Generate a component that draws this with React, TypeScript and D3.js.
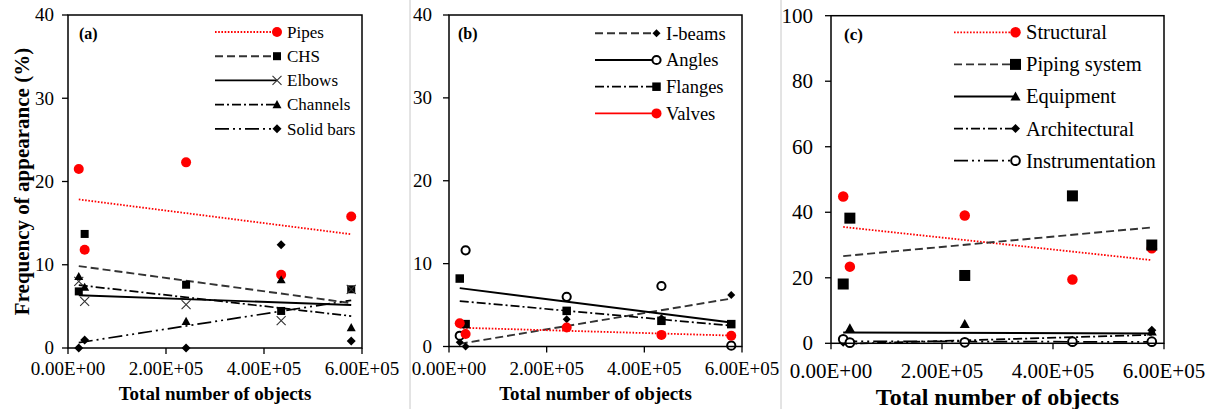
import React from "react";
import * as d3 from "d3";

// x positions: total number of objects in each dataset
const totalObjects = [22000, 34000, 241000, 435000, 578000];

// panel (a)
const pipes = [21.5, 11.8, 22.3, 8.8, 15.8];
const chs = [6.8, 13.7, 7.6, 4.45, 7.05];
const elbows = [8.0, 5.6, 5.2, 3.3, 7.05];
const channels = [8.6, 7.3, 3.2, 8.2, 2.45];
const solidBars = [0, 0.96, 0, 12.4, 0.84];

// panel (b)
const iBeams = [0.5, 0, 3.3, 3.4, 6.2];
const angles = [1.3, 11.6, 6.0, 7.3, 0.1];
const flanges = [8.2, 2.7, 4.3, 3.1, 2.7];
const valves = [2.8, 1.5, 2.3, 1.4, 1.3];

// panel (c)
const structural = [44.8, 23.4, 39.0, 19.5, 29.0];
const pipingSystem = [18.1, 38.2, 20.7, 45.0, 30.0];
const equipment = [1.0, 4.6, 5.9, 0.8, 3.6];
const architectural = [0.3, 0.2, 0.2, 0.3, 4.0];
const instrumentation = [1.2, 0.2, 0.3, 0.5, 0.5];

const xTickValues = [0, 200000, 400000, 600000];
const xTickLabels = ["0.00E+00", "2.00E+05", "4.00E+05", "6.00E+05"];
const yTicksAB = [0, 10, 20, 30, 40];
const yTicksC = [0, 20, 40, 60, 80, 100];

const FONT = "'Liberation Serif', 'Times New Roman', serif";
const RED = "#ff0000";

// line styles
const DOT = { color: RED, dash: "1.6 1.6", width: 1.8 };
const DASH = { color: "#333", dash: "8 4", width: 1.9 };
const SOLID = { color: "#000", dash: null, width: 1.9 };
const DASHDOT = { color: "#000", dash: "9 3 2 3", width: 1.7 };
const LONGDASHDOTDOT = { color: "#000", dash: "14 4 2 4 2 4", width: 1.7 };
const SOLIDRED = { color: RED, dash: null, width: 1.9 };

function trend(xs, ys) {
  const mx = d3.mean(xs), my = d3.mean(ys);
  let sxy = 0, sxx = 0;
  xs.forEach((x, i) => { sxy += (x - mx) * (ys[i] - my); sxx += (x - mx) * (x - mx); });
  const b = sxy / sxx;
  const a = my - b * mx;
  const x0 = d3.min(xs), x1 = d3.max(xs);
  return [[x0, a + b * x0], [x1, a + b * x1]];
}

function Marker({ type, x, y, size }) {
  const h = size / 2;
  if (type === "redcircle") return <circle cx={x} cy={y} r={h} fill={RED} />;
  if (type === "opencircle") return <circle cx={x} cy={y} r={h - 0.9} fill="#fff" stroke="#000" strokeWidth={2} />;
  if (type === "square") return <rect x={x - h} y={y - h} width={size} height={size} fill="#000" />;
  if (type === "triangle") return <path d={`M${x},${y - h}L${x + h},${y + h * 0.8}L${x - h},${y + h * 0.8}Z`} fill="#000" />;
  if (type === "diamond") return <path d={`M${x},${y - h}L${x + h},${y}L${x},${y + h}L${x - h},${y}Z`} fill="#000" />;
  if (type === "cross") return <path d={`M${x - h},${y - h}L${x + h},${y + h}M${x + h},${y - h}L${x - h},${y + h}`} stroke="#333" strokeWidth={1.1} fill="none" />;
  return null;
}

const panels = [
  {
    tag: "(a)", left: 68, right: 362, top: 15, bottom: 348, yMax: 40, yTicks: yTicksAB,
    tickFont: 19, legendFont: 17, titleFont: 19, tagFont: 16, tickGap: 14,
    xTickY: 375, titleY: 400, tagX: 79, tagY: 33,
    legend: { x1: 215, x2: 277, tx: 287, y0: 32, dy: 24.2 },
    yTitle: "Frequency of appearance (%)",
    series: [
      { name: "Pipes", values: pipes, marker: "redcircle", size: 10, line: DOT, legendLine: DOT },
      { name: "CHS", values: chs, marker: "square", size: 8, line: DASH, legendLine: DASH },
      { name: "Elbows", values: elbows, marker: "cross", size: 9, line: SOLID, legendLine: SOLID },
      { name: "Channels", values: channels, marker: "triangle", size: 9, line: DASHDOT, legendLine: DASHDOT },
      { name: "Solid bars", values: solidBars, marker: "diamond", size: 9, line: LONGDASHDOTDOT, legendLine: LONGDASHDOTDOT },
    ],
  },
  {
    tag: "(b)", left: 449, right: 742, top: 15, bottom: 346.5, yMax: 40, yTicks: yTicksAB,
    tickFont: 19, legendFont: 18.5, titleFont: 19, tagFont: 16, tickGap: 17,
    xTickY: 375, titleY: 400, tagX: 458, tagY: 33,
    legend: { x1: 595, x2: 656.5, tx: 666, y0: 33.3, dy: 26.7 },
    series: [
      { name: "I-beams", values: iBeams, marker: "diamond", size: 8, line: DASH, legendLine: DASH },
      { name: "Angles", values: angles, marker: "opencircle", size: 10, line: SOLID, legendLine: SOLID },
      { name: "Flanges", values: flanges, marker: "square", size: 8.5, line: DASHDOT, legendLine: DASHDOT },
      { name: "Valves", values: valves, marker: "redcircle", size: 10, line: DOT, legendLine: SOLIDRED },
    ],
  },
  {
    tag: "(c)", left: 831, right: 1164, top: 15.7, bottom: 343.3, yMax: 100, yTicks: yTicksC,
    tickFont: 21, legendFont: 20.5, titleFont: 24, tagFont: 17, tickGap: 18,
    xTickY: 378, titleY: 405, tagX: 844, tagY: 34.3,
    legend: { x1: 954, x2: 1015.5, tx: 1026, y0: 32.3, dy: 32.1 },
    series: [
      { name: "Structural", values: structural, marker: "redcircle", size: 10.5, line: DOT, legendLine: DOT },
      { name: "Piping system", values: pipingSystem, marker: "square", size: 11, line: DASH, legendLine: DASH },
      { name: "Equipment", values: equipment, marker: "triangle", size: 10, line: SOLID, legendLine: SOLID },
      { name: "Architectural", values: architectural, marker: "diamond", size: 9, line: DASHDOT, legendLine: DASHDOT },
      { name: "Instrumentation", values: instrumentation, marker: "opencircle", size: 10.5, line: LONGDASHDOTDOT, legendLine: LONGDASHDOTDOT },
    ],
  },
];

function Panel({ p }) {
  const x = d3.scaleLinear().domain([0, 600000]).range([p.left, p.right]);
  const y = d3.scaleLinear().domain([0, p.yMax]).range([p.bottom, p.top]);
  const cx = (p.left + p.right) / 2;
  return (
    <g fontFamily={FONT}>
      {/* trendlines */}
      {p.series.map((s) => {
        const [a, b] = trend(totalObjects, s.values);
        return (
          <line key={s.name + "t"} x1={x(a[0])} y1={y(a[1])} x2={x(b[0])} y2={y(b[1])}
            stroke={s.line.color} strokeWidth={s.line.width} strokeDasharray={s.line.dash || undefined} />
        );
      })}
      {/* markers */}
      {p.series.map((s) => (
        <g key={s.name + "m"}>
          {s.values.map((v, i) => (
            <Marker key={i} type={s.marker} x={x(totalObjects[i])} y={y(v)} size={s.size} />
          ))}
        </g>
      ))}
      {/* frame */}
      <rect x={p.left} y={p.top} width={p.right - p.left} height={p.bottom - p.top} fill="none" stroke="#000" strokeWidth={1.5} />
      {/* y ticks */}
      {p.yTicks.map((t) => (
        <g key={"y" + t}>
          <line x1={p.left - 6} x2={p.left} y1={y(t)} y2={y(t)} stroke="#000" strokeWidth={1.3} />
          <text x={p.left - p.tickGap} y={y(t)} dy="0.34em" textAnchor="end" fontSize={p.tickFont} fill="#000">{t}</text>
        </g>
      ))}
      {/* x ticks */}
      {xTickValues.map((t, i) => (
        <g key={"x" + t}>
          <line x1={x(t)} x2={x(t)} y1={p.bottom} y2={p.bottom + 6} stroke="#000" strokeWidth={1.3} />
          <text x={x(t)} y={p.xTickY} textAnchor="middle" fontSize={p.tickFont} fill="#000">{xTickLabels[i]}</text>
        </g>
      ))}
      <text x={cx} y={p.titleY} textAnchor="middle" fontSize={p.titleFont} fontWeight="bold">Total number of objects</text>
      {p.yTitle && (
        <text transform={`translate(22,${(p.top + p.bottom) / 2}) rotate(-90)`} textAnchor="middle" dy="0.35em"
          fontSize={21} fontWeight="bold">{p.yTitle}</text>
      )}
      <text x={p.tagX} y={p.tagY} dy="0.35em" fontSize={p.tagFont} fontWeight="bold">{p.tag}</text>
      {/* legend */}
      {p.series.map((s, i) => {
        const ly = p.legend.y0 + i * p.legend.dy;
        return (
          <g key={s.name + "l"}>
            <line x1={p.legend.x1} x2={p.legend.x2} y1={ly} y2={ly} stroke={s.legendLine.color}
              strokeWidth={s.legendLine.width} strokeDasharray={s.legendLine.dash || undefined} />
            <Marker type={s.marker} x={p.legend.x2} y={ly} size={s.size} />
            <text x={p.legend.tx} y={ly} dy="0.34em" fontSize={p.legendFont}>{s.name}</text>
          </g>
        );
      })}
    </g>
  );
}

export default function App() {
  return (
    <svg width={1217} height={409} style={{ position: "absolute", left: 0, top: 0, background: "#fff" }}>
      <rect width={1217} height={409} fill="#fff" />
      <line x1={410} x2={410} y1={0} y2={409} stroke="#c8c8c8" strokeWidth={1} />
      <line x1={781} x2={781} y1={0} y2={409} stroke="#c8c8c8" strokeWidth={1} />
      {panels.map((p) => <Panel key={p.tag} p={p} />)}
    </svg>
  );
}
